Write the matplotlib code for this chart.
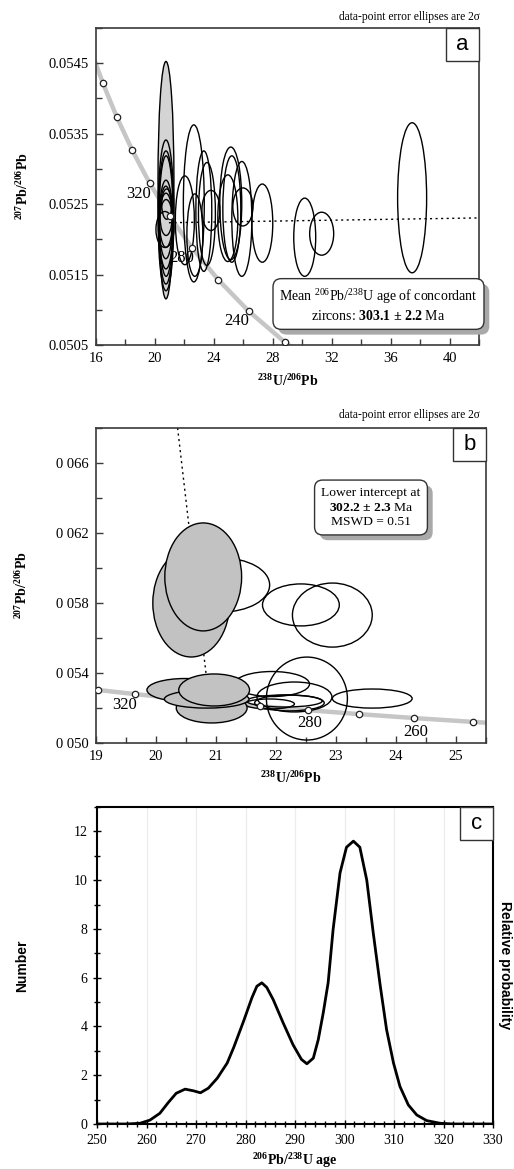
import matplotlib
matplotlib.use('Agg')
import matplotlib.pyplot as plt
from matplotlib.patches import Ellipse, Rectangle
from matplotlib.ticker import MultipleLocator, FixedLocator, FixedFormatter
import matplotlib.patheffects as pe

plt.rcParams['font.family'] = ['Liberation Serif', 'DejaVu Serif']
plt.rcParams['mathtext.fontset'] = 'custom'
plt.rcParams['mathtext.rm'] = 'Liberation Serif'
plt.rcParams['mathtext.it'] = 'Liberation Serif:italic'
plt.rcParams['mathtext.bf'] = 'Liberation Serif:bold'

# ---------------- data: panel a ----------------
conc_a_age = [400, 380, 360, 340, 320, 300, 280, 260, 240, 220, 200]
conc_a_x = [15.621, 16.469, 17.411, 18.464, 19.649, 20.992, 22.527, 24.297, 26.363, 28.805, 31.735]
conc_a_y = [0.054700, 0.054217, 0.053736, 0.053263, 0.052795, 0.052333, 0.051877, 0.051427, 0.050981, 0.050543, 0.050107]
a_labels = ['320', '280', '240']
a_label_x = [18.88, 21.80, 25.56]
a_label_y = [0.05265, 0.051736, 0.050836]

a_ell_x = [20.75, 20.75, 20.75, 20.76, 20.75, 20.74, 20.75, 20.76, 20.68, 20.80,
           22.03, 22.64, 23.32, 23.53, 23.80, 22.71, 24.95, 25.15, 25.22, 25.90, 25.97,
           27.29, 30.17, 31.32, 37.46]
a_ell_y = [0.05284, 0.05234, 0.05231, 0.05233, 0.05221, 0.05224, 0.05227, 0.05231, 0.05214, 0.05250,
           0.05227, 0.05251, 0.05240, 0.05236, 0.05241, 0.05206, 0.05230, 0.05251, 0.05243, 0.05229, 0.05246,
           0.05223, 0.05203, 0.05208, 0.05259]
a_ell_w = [1.08, 1.08, 1.02, 0.95, 0.95, 0.88, 0.88, 0.81, 1.22, 0.68,
           1.29, 1.42, 1.08, 1.15, 1.22, 1.08, 1.36, 1.49, 1.22, 1.36, 1.36,
           1.42, 1.49, 1.63, 1.97]
a_ell_h = [0.00337, 0.00214, 0.00189, 0.00171, 0.00126, 0.00103, 0.00077, 0.00051, 0.00051, 0.00043,
           0.00126, 0.00223, 0.00171, 0.00146, 0.00057, 0.00117, 0.00123, 0.00160, 0.00151, 0.00163, 0.00054,
           0.00111, 0.00111, 0.00061, 0.00213]
a_ell_gray = [True] + [False] * 24
disc_a_x = [20.95, 42.0]
disc_a_y = [0.052236, 0.052304]
a_yticks = [0.0505, 0.0515, 0.0525, 0.0535, 0.0545]
a_ytick_labels = ['0.0505', '0.0515', '0.0525', '0.0535', '0.0545']

# ---------------- data: panel b ----------------
conc_b_age = [340, 330, 320, 310, 300, 290, 280, 270, 260, 250, 240]
conc_b_x = [18.464, 19.039, 19.649, 20.299, 20.992, 21.733, 22.527, 23.379, 24.297, 25.289, 26.363]
conc_b_y = [0.053263, 0.053028, 0.052795, 0.052565, 0.052333, 0.052105, 0.051877, 0.051652, 0.051427, 0.051204, 0.050981]
b_labels = ['320', '280', '260']
b_label_x = [19.47, 22.56, 24.33]
b_label_y = [0.05217, 0.05114, 0.05060]

b_open_x = [21.094, 22.415, 22.939, 21.933, 22.307, 22.141, 21.892, 22.224, 22.515, 23.604]
b_open_y = [0.05903, 0.05789, 0.05731, 0.05337, 0.05263, 0.05240, 0.05223, 0.05229, 0.05254, 0.05254]
b_open_w = [1.60, 1.28, 1.33, 1.25, 1.25, 1.26, 0.83, 1.16, 1.35, 1.33]
b_open_h = [0.00309, 0.00240, 0.00366, 0.00143, 0.00171, 0.00069, 0.00057, 0.00091, 0.00474, 0.00109]
b_gray_x = [20.587, 20.787, 20.479, 20.928, 20.845, 20.969]
b_gray_y = [0.05800, 0.05949, 0.05303, 0.05200, 0.05251, 0.05303]
b_gray_w = [1.28, 1.28, 1.26, 1.18, 1.41, 1.18]
b_gray_h = [0.00617, 0.00617, 0.00131, 0.00171, 0.00103, 0.00183]
disc_b_x = [20.36, 20.89]
disc_b_y = [0.0680, 0.0523]
b_yticks = [0.050, 0.054, 0.058, 0.062, 0.066]
b_ytick_labels = ['0 050', '0 054', '0 058', '0 062', '0 066']

# ---------------- data: panel c ----------------
pdf_age = [250, 256, 258.7, 260.7, 262.7, 264.4, 266, 267.8, 269.5, 270.9, 272.5, 274.3, 276.3,
           277.6, 279.6, 281.3, 282.3, 283.3, 284.3, 285.6, 287.6, 289.6, 291.3, 292.4, 293.7,
           294.7, 295.7, 296.7, 297.7, 299.1, 300.4, 301.8, 303.1, 304.5, 305.8, 307.2, 308.5,
           309.9, 311.2, 312.9, 314.6, 316.6, 319.3, 322, 330]
pdf_val = [0, 0, 0.03, 0.16, 0.44, 0.88, 1.26, 1.43, 1.36, 1.28, 1.47, 1.88, 2.5,
           3.13, 4.21, 5.18, 5.65, 5.79, 5.6, 5.1, 4.15, 3.25, 2.65, 2.47, 2.7,
           3.46, 4.55, 5.8, 7.98, 10.3, 11.35, 11.6, 11.35, 10.0, 7.85, 5.7, 3.87,
           2.5, 1.54, 0.78, 0.37, 0.14, 0.03, 0.0, 0]

# ---------------- figure ----------------
W, H = 514, 1169
fig = plt.figure(figsize=(W / 100, H / 100), dpi=100)


def px_axes(l, t, r, b):
    return fig.add_axes([l / W, 1 - b / H, (r - l) / W, (b - t) / H])


axa = px_axes(96, 28, 479, 345)
axb = px_axes(96, 428, 486, 743)
axc = px_axes(97, 807, 493, 1124)

SP = '#3a3a3a'


def style_frame(ax, color=SP, lw=1.2):
    for s in ax.spines.values():
        s.set_color(color)
        s.set_linewidth(lw)


def panel_letter(ax, letter, x0, h):
    ax.add_patch(Rectangle((x0, 1 - h), 1 - x0, h, transform=ax.transAxes, fc='white',
                           ec='#333333', lw=1.0, zorder=10, clip_on=False))
    ax.text(x0 + (1 - x0) / 2, 1 - h / 2, letter, transform=ax.transAxes, ha='center',
            va='center', fontsize=16, family='Liberation Sans', zorder=11)


def shadow_box(ax, x, y, s, fs, pad):
    bs = 'round,pad=%.2f,rounding_size=0.6' % pad
    t = ax.text(x, y, s, transform=ax.transAxes, ha='center', va='center', fontsize=fs,
                bbox=dict(boxstyle=bs, fc='white', ec='#333333', lw=1.0), zorder=9,
                linespacing=1.3)
    t.get_bbox_patch().set_path_effects([
        pe.SimplePatchShadow(offset=(3.8, -3.8), shadow_rgbFace='#a9a9a9', alpha=1.0),
        pe.Normal()])
    return t


# ---------------- panel a ----------------
axa.set_xlim(16, 42)
axa.set_ylim(0.0505, 0.0550)
axa.xaxis.set_major_locator(MultipleLocator(4))
axa.xaxis.set_minor_locator(MultipleLocator(2))
axa.yaxis.set_major_locator(FixedLocator(a_yticks))
axa.yaxis.set_major_formatter(FixedFormatter(a_ytick_labels))
axa.yaxis.set_minor_locator(MultipleLocator(0.001))
axa.tick_params(which='both', direction='in', top=False, right=False, color=SP,
                labelsize=10.5, pad=5)
axa.tick_params(which='major', length=5, width=1)
axa.tick_params(which='minor', length=4, width=1)
style_frame(axa)

axa.plot(conc_a_x, conc_a_y, color='#c6c6c6', lw=3.2, zorder=1)
for x, y, w, h, g in zip(a_ell_x, a_ell_y, a_ell_w, a_ell_h, a_ell_gray):
    axa.add_patch(Ellipse((x, y), w, h, fc='#d4d4d4' if g else 'none', ec='black',
                          lw=1.0, zorder=2 if g else 3))
axa.plot(disc_a_x, disc_a_y, color='black', lw=1.0, ls=(0, (1.5, 2.5)), zorder=4)
axa.plot(conc_a_x, conc_a_y, 'o', ms=4.6, mfc='white', mec='#222222', mew=0.9, zorder=6)
for s, x, y in zip(a_labels, a_label_x, a_label_y):
    axa.text(x, y, s, fontsize=12, ha='center', va='center', zorder=7)

shadow_box(axa, 0.7376, 0.1262,
           'Mean $^{206}$Pb/$^{238}$U age of concordant\n'
           'zircons: $\\mathbf{303.1}$ $\\mathbf{\\pm}$ $\\mathbf{2.2}$ Ma',
           10, 0.45)
panel_letter(axa, 'a', 0.9138, 0.104)
axa.text(-0.19, 0.5, r'$\mathbf{^{207}Pb/^{206}Pb}$', transform=axa.transAxes, rotation=90,
         ha='center', va='center', fontsize=10)
axa.text(0.5, -0.114, r'$\mathbf{^{238}U/^{206}Pb}$', transform=axa.transAxes,
         ha='center', va='center', fontsize=10)
fig.text(480 / W, 1 - 17 / H, 'data-point error ellipses are 2σ', ha='right', va='center',
         fontsize=8.3)

# ---------------- panel b ----------------
axb.set_xlim(19, 25.5)
axb.set_ylim(0.050, 0.068)
axb.xaxis.set_major_locator(MultipleLocator(1))
axb.xaxis.set_minor_locator(MultipleLocator(0.5))
axb.yaxis.set_major_locator(FixedLocator(b_yticks))
axb.yaxis.set_major_formatter(FixedFormatter(b_ytick_labels))
axb.yaxis.set_minor_locator(MultipleLocator(0.002))
axb.tick_params(which='both', direction='in', top=False, right=False, color=SP,
                labelsize=10.5, pad=5)
axb.tick_params(which='major', length=5, width=1)
axb.tick_params(which='minor', length=4, width=1)
style_frame(axb)

axb.plot(disc_b_x, disc_b_y, color='black', lw=1.0, ls=(0, (1.5, 2.5)), zorder=1)
axb.plot(conc_b_x, conc_b_y, color='#c6c6c6', lw=3.2, zorder=2)
for x, y, w, h in zip(b_open_x, b_open_y, b_open_w, b_open_h):
    axb.add_patch(Ellipse((x, y), w, h, fc='none', ec='black', lw=1.0, zorder=3))
axb.plot(conc_b_x, conc_b_y, 'o', ms=4.6, mfc='white', mec='#222222', mew=0.9, zorder=4)
for x, y, w, h in zip(b_gray_x, b_gray_y, b_gray_w, b_gray_h):
    axb.add_patch(Ellipse((x, y), w, h, fc='#c2c2c2', ec='black', lw=1.0, zorder=5))
for s, x, y in zip(b_labels, b_label_x, b_label_y):
    axb.text(x, y, s, fontsize=12, ha='center', va='center', zorder=7)

shadow_box(axb, 0.7051, 0.7476,
           'Lower intercept at\n$\\mathbf{302.2}$ $\\mathbf{\\pm}$ $\\mathbf{2.3}$ Ma\nMSWD = 0.51',
           9.7, 0.5)
panel_letter(axb, 'b', 0.9154, 0.1048)
axb.text(-0.19, 0.5, r'$\mathbf{^{207}Pb/^{206}Pb}$', transform=axb.transAxes, rotation=90,
         ha='center', va='center', fontsize=10)
axb.text(0.5, -0.111, r'$\mathbf{^{238}U/^{206}Pb}$', transform=axb.transAxes,
         ha='center', va='center', fontsize=10)
fig.text(480 / W, 1 - 415 / H, 'data-point error ellipses are 2σ', ha='right', va='center',
         fontsize=8.3)

# ---------------- panel c ----------------
axc.set_xlim(250, 330)
axc.set_ylim(0, 13)
axc.xaxis.set_major_locator(MultipleLocator(10))
axc.xaxis.set_minor_locator(MultipleLocator(2))
axc.yaxis.set_major_locator(MultipleLocator(2))
axc.yaxis.set_minor_locator(MultipleLocator(1))
axc.tick_params(which='both', direction='inout', top=False, right=False, color='black',
                labelsize=10, pad=4)
axc.tick_params(which='major', length=6, width=1)
axc.tick_params(which='minor', length=4, width=1)
style_frame(axc, 'black', 1.5)
for g in range(260, 330, 10):
    axc.axvline(g, color='#ececec', lw=0.9, zorder=0)
axc.plot(pdf_age, pdf_val, color='black', lw=2.0, zorder=3)
panel_letter(axc, 'c', 0.9167, 0.104)
axc.text(-0.189, 0.5, 'Number', transform=axc.transAxes, rotation=90, ha='center',
         va='center', fontsize=10, family='Liberation Sans', weight='bold')
axc.text(1.03, 0.5, 'Relative probability', transform=axc.transAxes, rotation=-90,
         ha='center', va='center', fontsize=10, family='Liberation Sans', weight='bold')
axc.text(0.5, -0.115, r'$\mathbf{^{206}Pb/^{238}U\ age}$', transform=axc.transAxes,
         ha='center', va='center', fontsize=10)

fig.savefig('out.png', dpi=100)
